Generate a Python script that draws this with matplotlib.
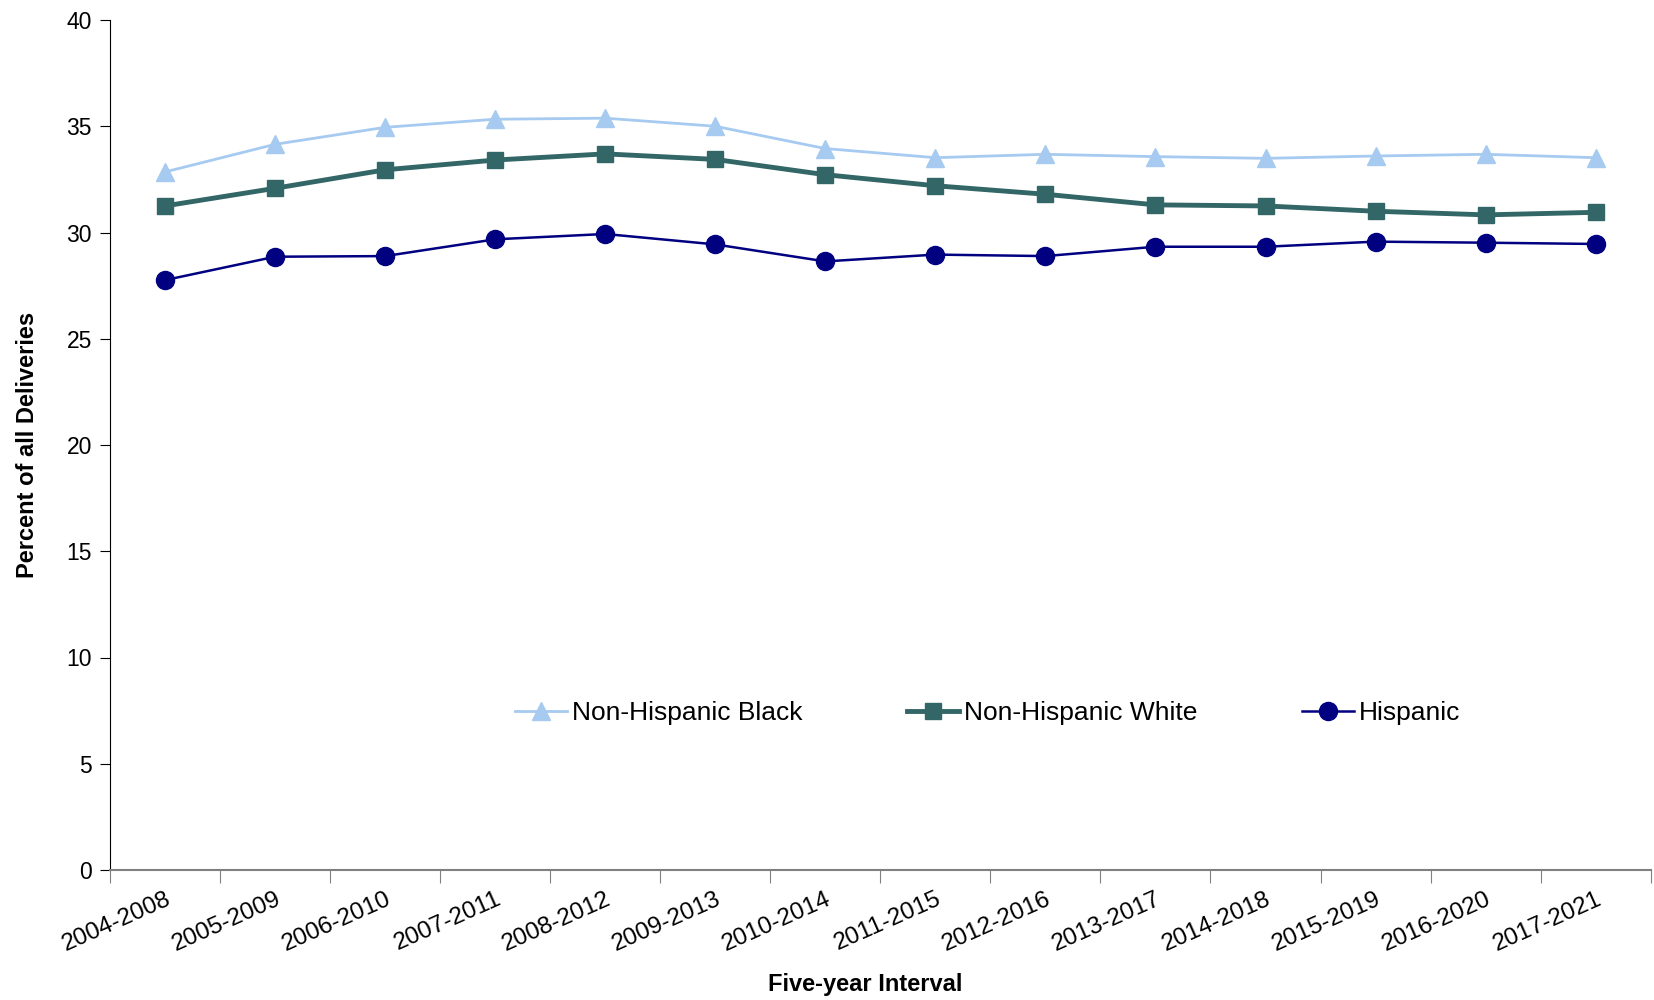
import matplotlib
matplotlib.use("Agg")
import matplotlib.pyplot as plt
import numpy as np

plt.rcParams['font.family'] = ['Liberation Sans', 'DejaVu Sans']

intervals = ["2004-2008", "2005-2009", "2006-2010", "2007-2011", "2008-2012",
             "2009-2013", "2010-2014", "2011-2015", "2012-2016", "2013-2017",
             "2014-2018", "2015-2019", "2016-2020", "2017-2021"]
nh_black = [32.85, 34.15, 34.95, 35.33, 35.38, 35.0, 33.95,
            33.52, 33.68, 33.57, 33.49, 33.6, 33.68, 33.52]
nh_white = [31.25, 32.08, 32.95, 33.41, 33.7, 33.44, 32.72,
            32.2, 31.8, 31.3, 31.25, 31.0, 30.83, 30.95]
hispanic = [27.76, 28.86, 28.89, 29.68, 29.93, 29.44, 28.64,
            28.96, 28.89, 29.33, 29.33, 29.57, 29.52, 29.46]

fig = plt.figure(figsize=(16.54, 10), dpi=100)
ax = fig.add_axes([0.0665, 0.13, 0.9315, 0.85])

x = np.arange(len(intervals)) + 0.5
ax.plot(x, nh_black, color="#A6CAF0", lw=2, marker="^", ms=13, label="Non-Hispanic Black")
ax.plot(x, nh_white, color="#336666", lw=3.5, marker="s", ms=12, label="Non-Hispanic White")
ax.plot(x, hispanic, color="#000080", lw=1.8, marker="o", ms=13, label="Hispanic")

ax.set_xlim(0, len(intervals))
ax.set_ylim(0, 40)
ax.set_yticks(range(0, 41, 5))
ax.set_xticks(np.arange(len(intervals) + 1))
ax.set_xticklabels([])
ax.set_xticks(x, minor=True)
ax.set_xticklabels(intervals, minor=True, rotation=24, ha="right", rotation_mode="anchor")
ax.tick_params(axis="x", which="minor", length=0, pad=13, labelsize=17.5)
ax.tick_params(axis="x", which="major", length=9, color="#808080", direction="out")
ax.tick_params(axis="y", length=7, labelsize=16.5, direction="out", pad=6)

for s in ["top", "right"]:
    ax.spines[s].set_visible(False)
ax.spines["bottom"].set_color("#808080")
ax.spines["bottom"].set_linewidth(1.5)
ax.spines["left"].set_color("#000000")

ax.set_ylabel("Percent of all Deliveries", fontsize=17, fontweight="bold", labelpad=20)
fig.text(0.523, 0.016, "Five-year Interval", fontsize=17, fontweight="bold", ha="center", va="center")

fig.legend(loc="center", bbox_to_anchor=(0.597, 0.287), ncol=3, frameon=False,
           fontsize=19, columnspacing=3.95, handlelength=1.97, handletextpad=0.2)

fig.savefig("out.png", dpi=100)
